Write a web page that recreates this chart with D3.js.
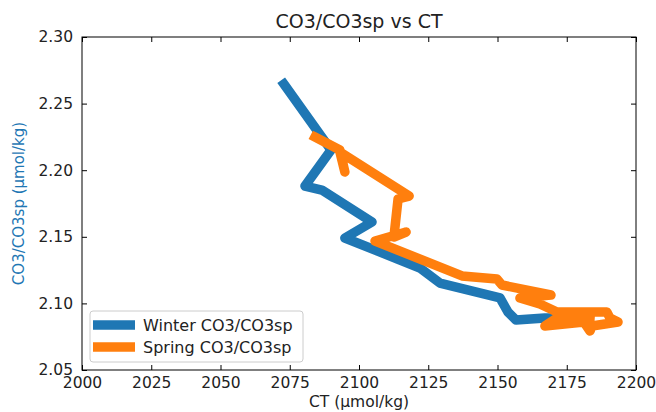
<!DOCTYPE html>
<html>
<head>
<meta charset="utf-8">
<script src="https://cdn.jsdelivr.net/npm/d3@7"></script>
<style>
  body { margin: 0; background: #fff; }
  text { font-family: "DejaVu Sans", sans-serif; }
</style>
</head>
<body>
<div id="chart"></div>
<script>
// values
var winterCT    = [2072.9, 2089.9, 2080.5, 2086.6, 2104.7, 2094.9, 2114.8, 2122.0, 2129.2, 2150.9, 2153.8, 2156.7, 2167.1, 2178.0];
var winterRatio = [2.2647, 2.2152, 2.1881, 2.1851, 2.1611, 2.1491, 2.1326, 2.1266, 2.1153, 2.1041, 2.0935, 2.0875, 2.0890, 2.0890];

var springCT    = [2084.1, 2093.1, 2094.9, 2093.1, 2118.1, 2114.1, 2112.6, 2117.0, 2105.8, 2137.2, 2149.8, 2151.6, 2169.3, 2158.1, 2165.3, 2171.5, 2189.5, 2190.6, 2193.5, 2184.1, 2183.4, 2181.2, 2167.1, 2172.6, 2183.4];
var springRatio = [2.2249, 2.2152, 2.1986, 2.2137, 2.1806, 2.1784, 2.1498, 2.1536, 2.1468, 2.1206, 2.1183, 2.1138, 2.1063, 2.1041, 2.0995, 2.0935, 2.0935, 2.0890, 2.0860, 2.0830, 2.0793, 2.0860, 2.0830, 2.0905, 2.0890];

var xTicks = [2000, 2025, 2050, 2075, 2100, 2125, 2150, 2175, 2200];
var yTicks = [2.05, 2.10, 2.15, 2.20, 2.25, 2.30];

var seriesNames = ["Winter CO3/CO3sp", "Spring CO3/CO3sp"];
var seriesColors = ["#1f77b4", "#ff7f0e"];

var W = 656, H = 412;
var margin = {top: 37, right: 20, bottom: 42, left: 82};
var width = W - margin.left - margin.right;
var height = H - margin.top - margin.bottom;

var svg = d3.select("#chart").append("svg")
    .attr("width", W)
    .attr("height", H);

var g = svg.append("g")
    .attr("transform", "translate(" + margin.left + "," + margin.top + ")");

var x = d3.scaleLinear().domain([2000, 2200]).range([0, width]);
var y = d3.scaleLinear().domain([2.05, 2.30]).range([height, 0]);

// clip to plot area
svg.append("defs").append("clipPath").attr("id", "clip")
    .append("rect").attr("width", width).attr("height", height);

var line = d3.line()
    .x(function(d){ return x(d[0]); })
    .y(function(d){ return y(d[1]); });

var winter = d3.zip(winterCT, winterRatio);
var spring = d3.zip(springCT, springRatio);

var plot = g.append("g").attr("clip-path", "url(#clip)");
[winter, spring].forEach(function(data, i){
    plot.append("path")
        .datum(data)
        .attr("d", line)
        .attr("fill", "none")
        .attr("stroke", seriesColors[i])
        .attr("stroke-width", 9.5)
        .attr("stroke-linejoin", "round")
        .attr("stroke-linecap", "square");
});

// axes with inward ticks, all four sides
var tl = 5;
g.append("g")
    .attr("transform", "translate(0," + height + ")")
    .call(d3.axisBottom(x).tickValues(xTicks).tickSizeInner(-tl).tickSizeOuter(0).tickPadding(7).tickFormat(d3.format("d")));
g.append("g")
    .call(d3.axisTop(x).tickValues(xTicks).tickSizeInner(-tl).tickSizeOuter(0).tickFormat(""));
g.append("g")
    .call(d3.axisLeft(y).tickValues(yTicks).tickSizeInner(-tl).tickSizeOuter(0).tickPadding(9).tickFormat(d3.format(".2f")));
g.append("g")
    .attr("transform", "translate(" + width + ",0)")
    .call(d3.axisRight(y).tickValues(yTicks).tickSizeInner(-tl).tickSizeOuter(0).tickFormat(""));

g.selectAll(".domain").remove();
g.selectAll(".tick line").attr("stroke", "#000");
g.selectAll(".tick text")
    .attr("font-size", 15.5)
    .attr("fill", "#222");

g.append("rect")
    .attr("width", width)
    .attr("height", height)
    .attr("fill", "none")
    .attr("stroke", "#000")
    .attr("stroke-width", 1);

// title and labels
svg.append("text")
    .attr("x", margin.left + width / 2)
    .attr("y", 28)
    .attr("text-anchor", "middle")
    .attr("font-size", 19)
    .attr("fill", "#222")
    .text("CO3/CO3sp vs CT");

svg.append("text")
    .attr("x", margin.left + width / 2)
    .attr("y", 407)
    .attr("text-anchor", "middle")
    .attr("font-size", 15.5)
    .attr("fill", "#222")
    .text("CT (\u00b5mol/kg)");

svg.append("text")
    .attr("transform", "translate(24," + (margin.top + height / 2) + ") rotate(-90)")
    .attr("text-anchor", "middle")
    .attr("font-size", 15)
    .attr("fill", "#1f77b4")
    .text("CO3/CO3sp (\u00b5mol/kg)");

// legend
var lg = svg.append("g").attr("transform", "translate(90,311)");
lg.append("rect")
    .attr("width", 213)
    .attr("height", 51)
    .attr("rx", 3)
    .attr("fill", "#fff")
    .attr("fill-opacity", 0.8)
    .attr("stroke", "#cccccc");
seriesNames.forEach(function(name, i){
    var yy = 14 + i * 22;
    lg.append("line")
        .attr("x1", 3).attr("x2", 45)
        .attr("y1", yy).attr("y2", yy)
        .attr("stroke", seriesColors[i])
        .attr("stroke-width", 9.5);
    lg.append("text")
        .attr("x", 53)
        .attr("y", yy + 6)
        .attr("font-size", 16)
        .attr("fill", "#222")
        .text(name);
});
</script>
</body>
</html>
